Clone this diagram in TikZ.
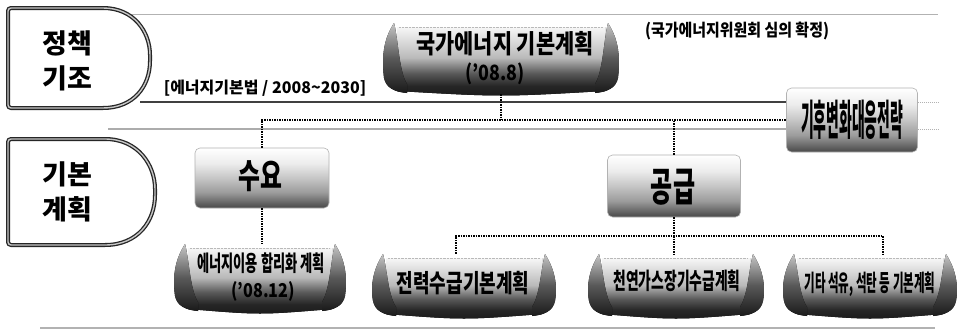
\documentclass[tikz,border=0pt]{standalone}
\usepackage{fontspec}
\setmainfont{Noto Sans CJK KR}
\usepackage{graphicx}
\usetikzlibrary{calc}
\pgfdeclareverticalshading{scrollsh}{100bp}{color(0bp)=(black!90); color(25bp)=(black!90); color(33bp)=(black!85); color(42bp)=(black!65); color(53bp)=(gray!55); color(65bp)=(gray!28); color(75bp)=(gray!6); color(100bp)=(gray!6)}
\pgfdeclareverticalshading{boxsh}{100bp}{color(0bp)=(black!72); color(25bp)=(black!72); color(38bp)=(gray!78); color(50bp)=(gray!45); color(62bp)=(gray!15); color(75bp)=(white); color(100bp)=(white)}
\pgfdeclareverticalshading{leafsh}{100bp}{color(0bp)=(black!90); color(25bp)=(black!90); color(50bp)=(black!65); color(75bp)=(gray!45); color(100bp)=(gray!45)}
\newcommand\hs[2]{\scalebox{#1}[1]{#2}}
\newcommand\fs[1]{\fontsize{#1}{#1}\selectfont}
\newcommand\leafL[2]{%
  \fill[shading=leafsh] (11,#1) .. controls (2,#1+14) and (-2,#1+30) .. (1,#2-16) .. controls (3,#2-6) and (12,#2-2) .. (24,#2-1) -- (24,#2-10) .. controls (16,#2-22) and (15,#1+14) .. cycle;}
\newcommand\scroll[5]{%
  \fill[shading=scrollsh] (#2+14,#3+4) -- (#4-14,#3+4) -- (#4-14,#5-3) .. controls ({(#2+#4)/2},#5+3) .. (#2+14,#5-3) -- cycle;
  \draw[gray!55, densely dotted] (#2+16,#3+4) -- (#4-16,#3+4);
  \begin{scope}[shift={(#2,0)}]\leafL{#3}{#5}\end{scope}
  \begin{scope}[shift={(#4,0)},xscale=-1]\leafL{#3}{#5}\end{scope}
  \node[inner sep=0, minimum width={#4-#2}, minimum height={#5-#3}] (#1) at ({(#2+#4)/2},{(#3+#5)/2}) {};
}
\tikzset{
  tab/.style={draw=black!85, line width=1.3, double=gray!45, double distance=1.4, fill=white, rounded corners=3},
  lbl/.style={inner sep=0, font=\bfseries, text=black},
  tablbl/.style={inner sep=0, align=center, text=black, font={\bfseries\fontsize{27}{35}\selectfont}},
  softbox/.style={rounded corners=5, shading=boxsh, draw=gray!60, line width=0.6, inner sep=0},
  dots/.style={black, line width=1.5, densely dotted},
}
\begin{document}
\begin{tikzpicture}[x=1pt,y=-1pt]
\useasboundingbox (0,0) rectangle (960,332);
\fill[white] (0,0) rectangle (960,332);
\coordinate (r1) at (0,102);
\coordinate (r2) at (0,129);
\coordinate (hB) at (674,236);

% climate box first (lines end at it)
\node[softbox, minimum width=131, minimum height=64] (climate) at (852,120) {};
\node[lbl] (climateL) at (climate) {\hs{0.33}{\fs{42}기후변화대응전략}};

% rules
\draw[gray!60, line width=0.9] (130,14) -- (938,14);
\draw[black!75, line width=2.2] (140,102) -- (climate.west |- r1);
\draw[gray!65, line width=1.1] (108,129) -- (climate.west |- r2);
\draw[gray!60, densely dotted, line width=1] (climate.east |- r1) -- ++(22,0);
\draw[gray!60, densely dotted, line width=1] (climate.east |- r2) -- ++(22,0);
\draw[gray!60, line width=1.2] (40,328) -- (935,328);

% tabs
\draw[tab] (8,8) -- (100,8) .. controls (134,8) and (150,32) .. (150,58) .. controls (150,86) and (134,108) .. (100,108) -- (8,108) -- cycle;
\draw[tab] (8,139) -- (102,139) .. controls (138,139) and (155,165) .. (155,192) .. controls (155,221) and (138,245) .. (102,245) -- (8,245) -- cycle;
\node[tablbl] (tab1) at (67,61) {정책\\기조};
\node[tablbl] (tab2) at (67,192) {기본\\계획};

% scrolls
\scroll{mainbox}{383}{23}{619}{94}
\scroll{effbox}{174}{244}{346}{312}
\scroll{powerbox}{372}{254}{556}{317}
\scroll{gasbox}{588}{254}{764}{317}
\scroll{otherbox}{783}{254}{957}{317}

\node[lbl] (mainA) at (505,44) {\hs{0.8}{\fs{26}국가에너지 기본계획}};
\node[lbl] (mainB) at (495,74) {\hs{0.85}{\fs{21}('08.8)}};
\node[lbl] (note1) at (737,31) {\hs{0.88}{\fs{17}(국가에너지위원회 심의 확정)}};
\node[lbl] (note2) at (265,88) {\fs{16}[에너지기본법 / 2008\textasciitilde 2030]};

\node[lbl] (effA) at (261,263) {\hs{0.6}{\fs{22}에너지이용 합리화 계획}};
\node[lbl] (effB) at (263,291) {\hs{0.85}{\fs{19}('08.12)}};
\node[lbl] (powerL) at (463,283) {\hs{0.72}{\fs{25}전력수급기본계획}};
\node[lbl] (gasL) at (677,281) {\hs{0.6}{\fs{23}천연가스장기수급계획}};
\node[lbl] (otherL) at (870,284) {\hs{0.5}{\fs{23}기타 석유, 석탄 등 기본계획}};

% demand / supply boxes
\node[softbox, minimum width=134, minimum height=60] (demand) at (262,178) {};
\node[lbl] (demandL) at (260,176) {\hs{0.7}{\fs{34}수요}};
\node[softbox, minimum width=133, minimum height=62] (supply) at (674,186) {};
\node[lbl] (supplyL) at (673,187) {\hs{0.6}{\fs{40}공급}};

% connectors
\draw[dots] (mainbox.south) -- (mainbox.south |- climate.west);
\draw[dots] (demand.north) -- (demand.north |- climate.west) -- (climate.west);
\draw[dots] (supply.north) -- (supply.north |- climate.west);
\draw[dots] (demand.south) -- (demand.south |- effbox.north);
\draw[dots] (supply.south) -- (supply.south |- hB);
\draw[dots] ([xshift=-8pt]powerbox.north) -- ([xshift=-8pt]powerbox.north |- hB) -- ([xshift=13pt]otherbox.north |- hB) -- ([xshift=13pt]otherbox.north);
\draw[dots] (hB) -- (hB |- gasbox.north);
\end{tikzpicture}
\end{document}
